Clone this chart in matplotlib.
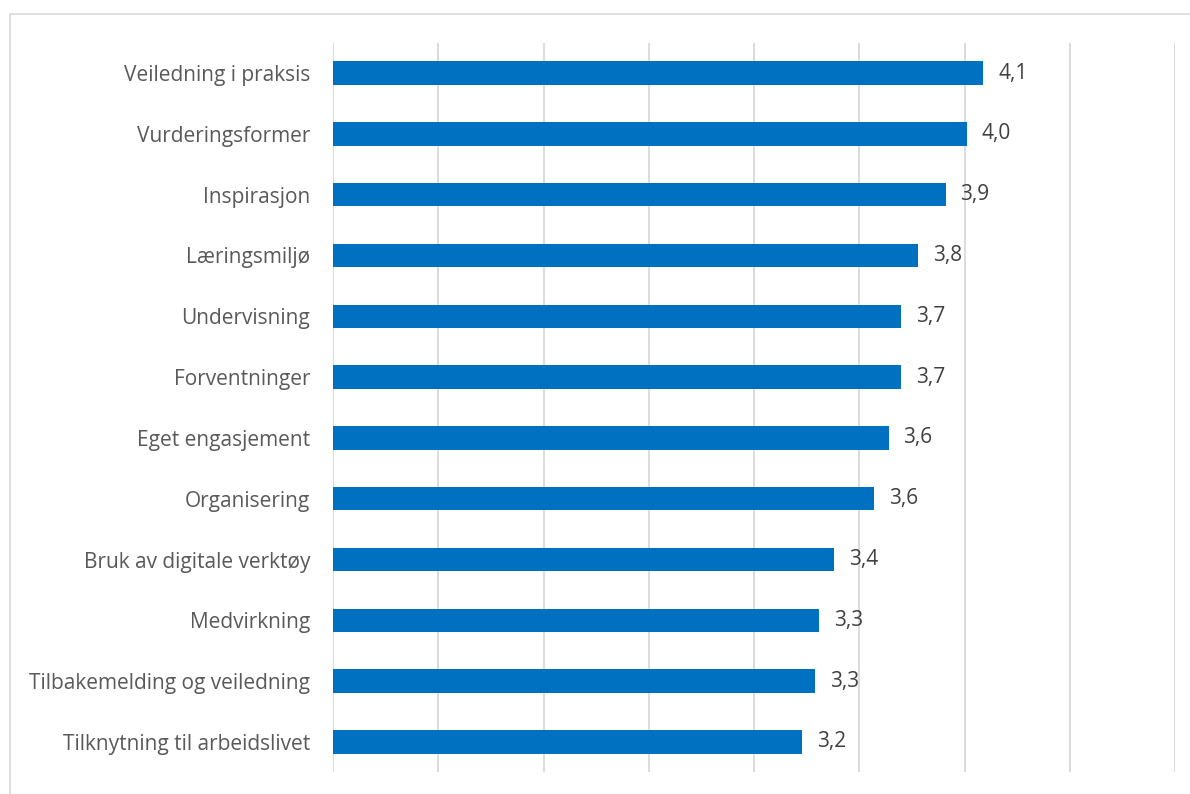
import matplotlib
matplotlib.use("Agg")
import matplotlib.pyplot as plt
from matplotlib.patches import Rectangle

categories = ["Veiledning i praksis", "Vurderingsformer", "Inspirasjon", "Læringsmiljø",
              "Undervisning", "Forventninger", "Eget engasjement", "Organisering",
              "Bruk av digitale verktøy", "Medvirkning", "Tilbakemelding og veiledning",
              "Tilknytning til arbeidslivet"]
values = [4.09, 4.01, 3.91, 3.78, 3.70, 3.70, 3.64, 3.57, 3.38, 3.31, 3.29, 3.23]
xmin, xmax, xstep = 1.0, 5.0, 0.5

plt.rcParams['font.family'] = ['Open Sans', 'DejaVu Sans']
fig = plt.figure(figsize=(11.9, 7.94), dpi=100)
ax = fig.add_axes([333/1190, 1-772.4/794, (1175-333)/1190, (772.4-42.6)/794])

# outer frame (top and left visible)
fig.patches.append(Rectangle((10/1190, -0.1), 1.2, (794-14)/794 + 0.1,
                             transform=fig.transFigure, fill=False,
                             edgecolor='#d9d9d9', linewidth=1.2))

n = len(categories)
ypos = list(range(n))
ax.barh(ypos, [v - xmin for v in values], left=xmin, height=0.385, color='#0070C0', zorder=3)
ax.set_ylim(n - 0.5, -0.5)
ax.set_xlim(xmin, xmax)
ticks = [xmin + i * xstep for i in range(int(round((xmax - xmin) / xstep)) + 1)]
ax.set_xticks(ticks)
ax.set_xticklabels([])
ax.tick_params(axis='x', length=0)
ax.grid(axis='x', color='#d9d9d9', linewidth=1.3, zorder=0)
for s in ax.spines.values():
    s.set_visible(False)
ax.set_yticks(ypos)
ax.set_yticklabels(categories, fontsize=15, color='#595959')
ax.tick_params(axis='y', length=0, pad=16.5)

for y, v in zip(ypos, values):
    ax.annotate(f"{v:.1f}".replace('.', ','), (v, y), xytext=(10.5, 0), textcoords='offset points',
                va='center', ha='left', fontsize=15, color='#404040')

fig.savefig("out.png", dpi=100)
